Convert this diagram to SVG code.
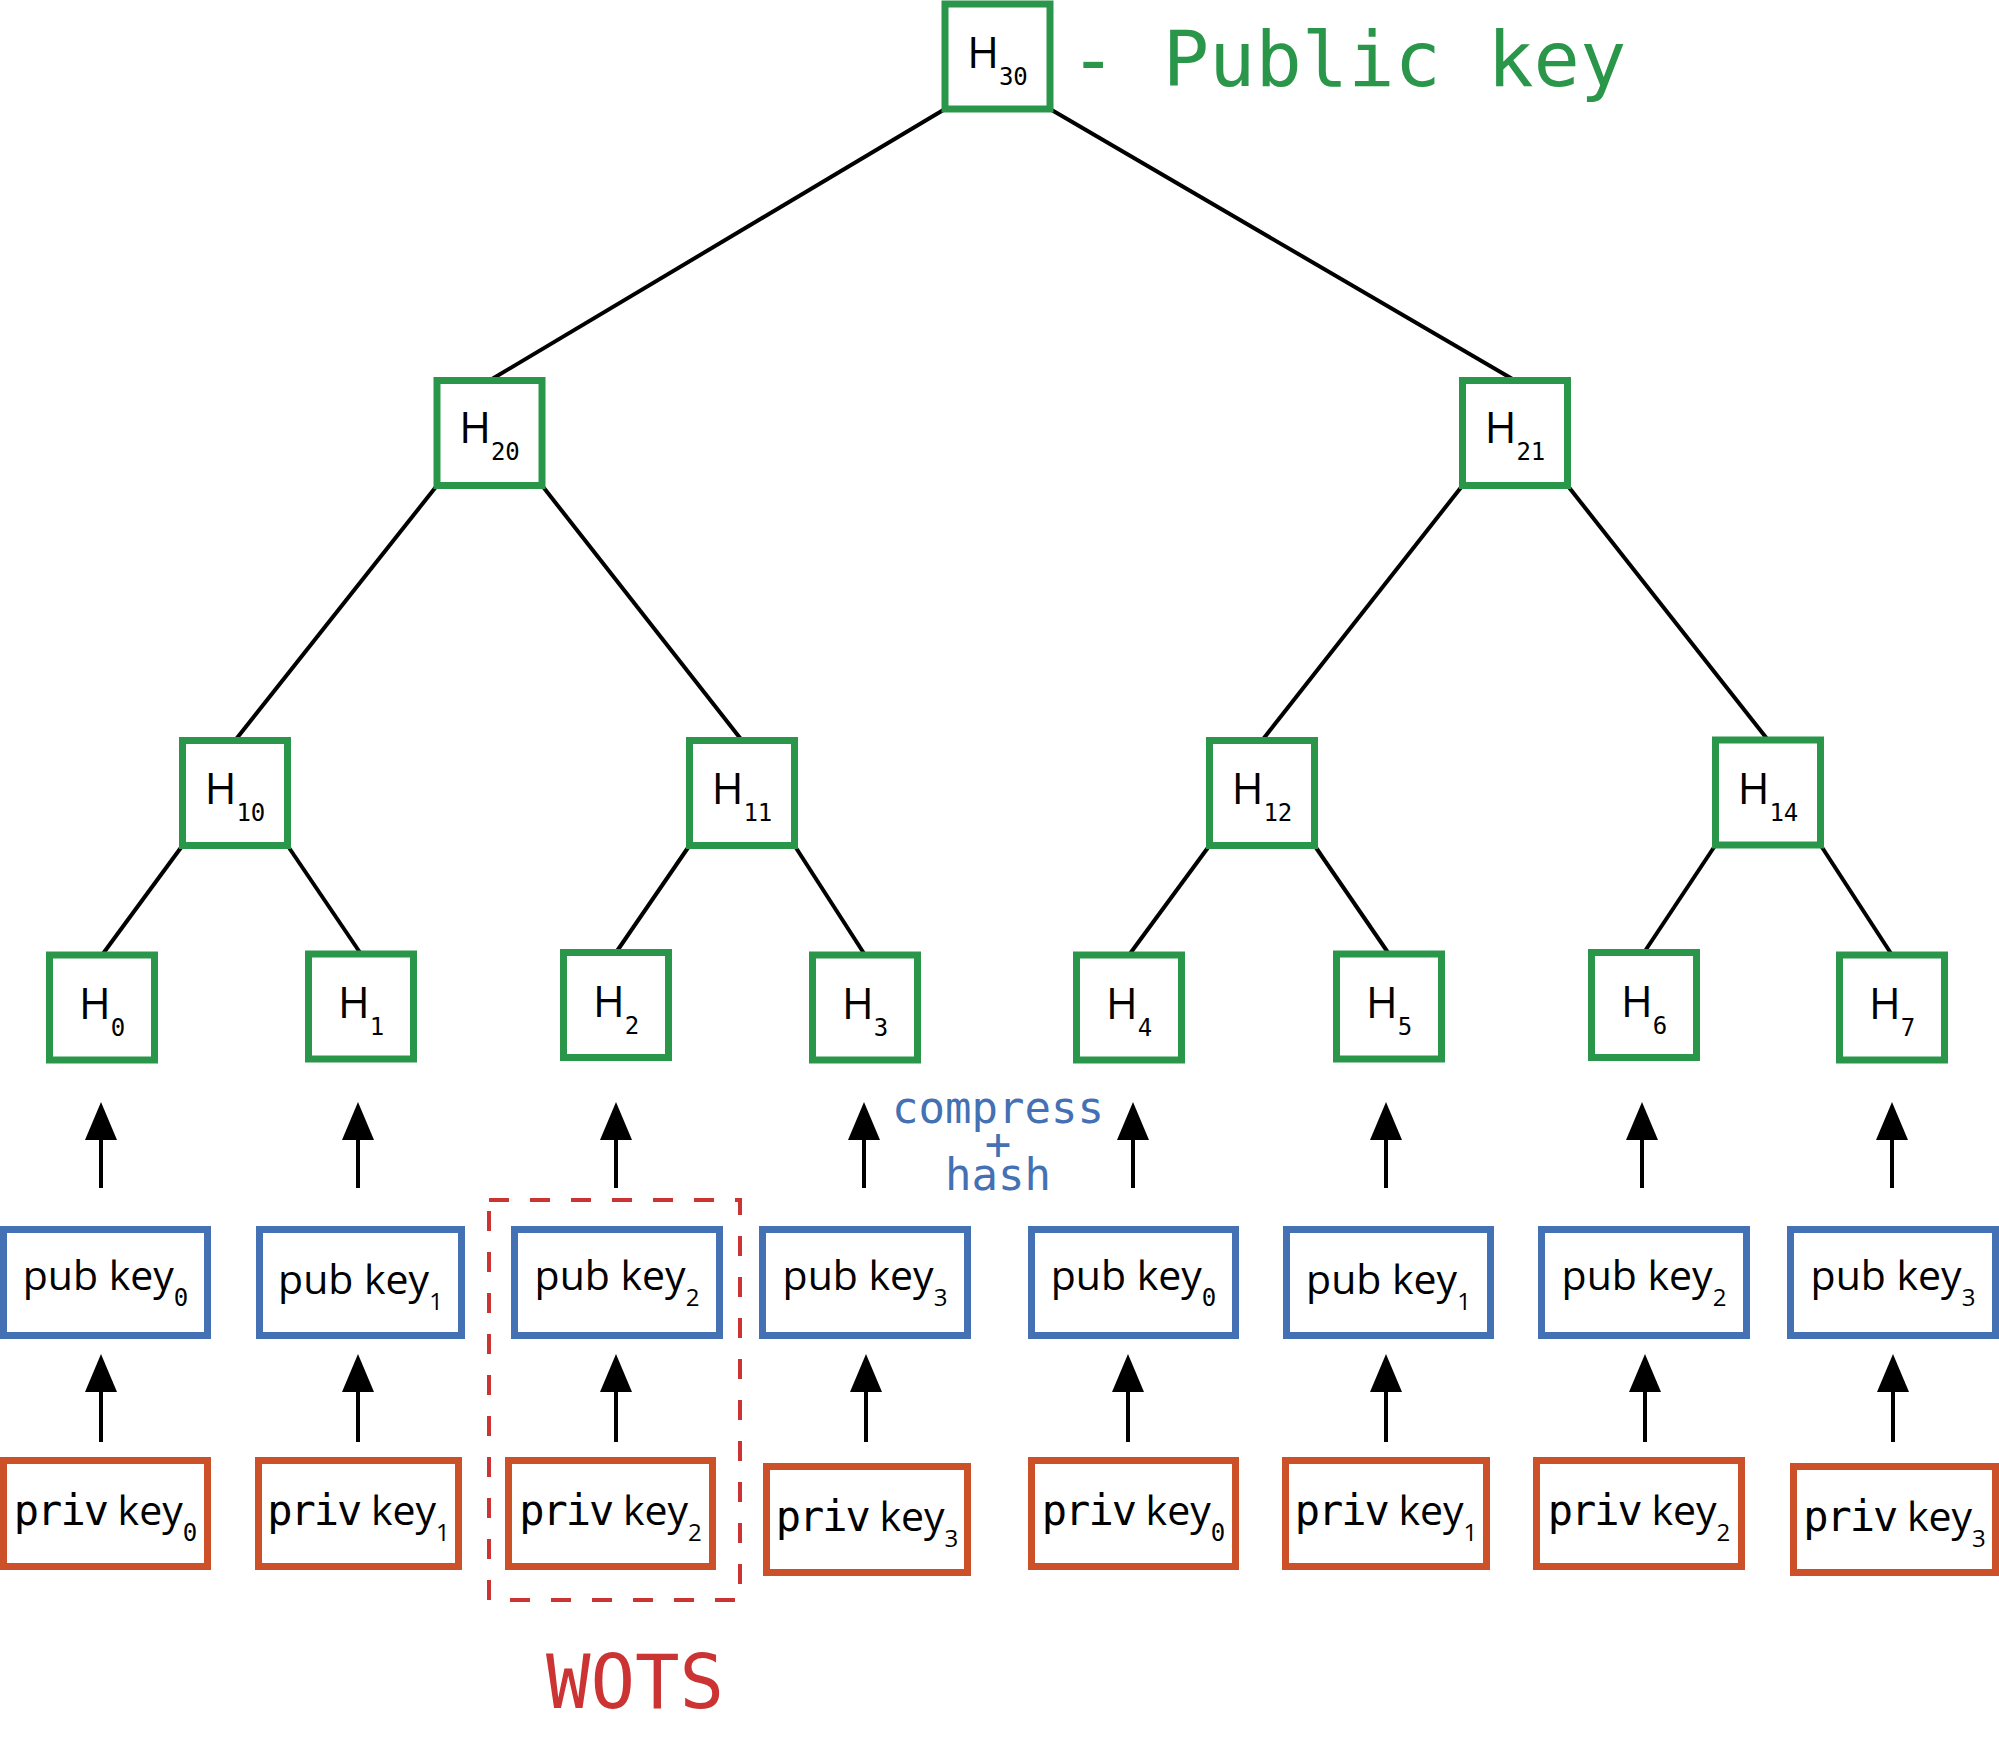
<svg xmlns="http://www.w3.org/2000/svg" width="1999" height="1739" viewBox="0 0 1999 1739">
<style>
.h{fill:#fff;stroke:#2a964a;stroke-width:7}
.pub{fill:#fff;stroke:#4470b4;stroke-width:7}
.priv{fill:#fff;stroke:#cc5028;stroke-width:7}
.edge{stroke:#000;stroke-width:4;fill:none}
.arr{stroke:#000;stroke-width:4;fill:none;marker-end:url(#ah)}
.ht{font-family:"Open Sans","Noto Sans",sans-serif;font-size:43px;fill:#000;text-anchor:middle}
.kt{font-family:"Open Sans","Noto Sans",sans-serif;font-size:41px;fill:#000;text-anchor:middle}
.sub{font-family:"DejaVu Sans Mono",monospace;font-size:24px}
.ssub{font-family:"Open Sans","Noto Sans",sans-serif;font-size:24px}
.mono{font-family:"DejaVu Sans Mono",monospace;font-size:42px;letter-spacing:-2px}
</style>
<defs>
<marker id="ah" markerUnits="userSpaceOnUse" viewBox="0 0 38 32" markerWidth="38" markerHeight="32" refX="0" refY="16" orient="auto">
<path d="M0,0 L38,16 L0,32 z" fill="#000"/>
</marker>
</defs>
<rect width="1999" height="1739" fill="#fff"/>
<g id="connectors">
<line class="edge" x1="945" y1="109" x2="489.5" y2="380.5"/>
<line class="edge" x1="1050" y1="109" x2="1515" y2="380.5"/>
<line class="edge" x1="437" y1="485.5" x2="235" y2="740.5"/>
<line class="edge" x1="542" y1="485.5" x2="742" y2="740.5"/>
<line class="edge" x1="1462.5" y1="485.5" x2="1262" y2="740.5"/>
<line class="edge" x1="1567.5" y1="485.5" x2="1768" y2="740"/>
<line class="edge" x1="182.5" y1="845.5" x2="102" y2="955"/>
<line class="edge" x1="287.5" y1="845.5" x2="361" y2="954"/>
<line class="edge" x1="689.5" y1="845.5" x2="616" y2="952.5"/>
<line class="edge" x1="794.5" y1="845.5" x2="865" y2="955"/>
<line class="edge" x1="1209.5" y1="845.5" x2="1129" y2="955"/>
<line class="edge" x1="1314.5" y1="845.5" x2="1389" y2="954"/>
<line class="edge" x1="1715.5" y1="845" x2="1644" y2="952.5"/>
<line class="edge" x1="1820.5" y1="845" x2="1892" y2="955"/>
<path class="arr" d="M101,1188 V1140"/>
<path class="arr" d="M358,1188 V1140"/>
<path class="arr" d="M616,1188 V1140"/>
<path class="arr" d="M864,1188 V1140"/>
<path class="arr" d="M1133,1188 V1140"/>
<path class="arr" d="M1386,1188 V1140"/>
<path class="arr" d="M1642,1188 V1140"/>
<path class="arr" d="M1892,1188 V1140"/>
<path class="arr" d="M101,1442 V1392"/>
<path class="arr" d="M358,1442 V1392"/>
<path class="arr" d="M616,1442 V1392"/>
<path class="arr" d="M866,1442 V1392"/>
<path class="arr" d="M1128,1442 V1392"/>
<path class="arr" d="M1386,1442 V1392"/>
<path class="arr" d="M1645,1442 V1392"/>
<path class="arr" d="M1893,1442 V1392"/>
</g>
<g id="H30"><rect class="h" x="945" y="4" width="105" height="105"/><text class="ht" x="997.5" y="68">H<tspan class="sub" dy="17">30</tspan></text></g>
<text x="1070" y="86" font-family="DejaVu Sans Mono,monospace" font-size="77" fill="#2a964a">- Public key</text>
<g id="H20"><rect class="h" x="437" y="380.5" width="105" height="105"/><text class="ht" x="489.5" y="443">H<tspan class="sub" dy="17">20</tspan></text></g>
<g id="H21"><rect class="h" x="1462.5" y="380.5" width="105" height="105"/><text class="ht" x="1515" y="443">H<tspan class="sub" dy="17">21</tspan></text></g>
<g id="H10"><rect class="h" x="182.5" y="740.5" width="105" height="105"/><text class="ht" x="235" y="804">H<tspan class="sub" dy="17">10</tspan></text></g>
<g id="H11"><rect class="h" x="689.5" y="740.5" width="105" height="105"/><text class="ht" x="742" y="804">H<tspan class="sub" dy="17">11</tspan></text></g>
<g id="H12"><rect class="h" x="1209.5" y="740.5" width="105" height="105"/><text class="ht" x="1262" y="804">H<tspan class="sub" dy="17">12</tspan></text></g>
<g id="H14"><rect class="h" x="1715.5" y="740" width="105" height="105"/><text class="ht" x="1768" y="803.5">H<tspan class="sub" dy="17">14</tspan></text></g>
<g id="H0"><rect class="h" x="49.5" y="955" width="105" height="105"/><text class="ht" x="102" y="1019">H<tspan class="sub" dy="17">0</tspan></text></g>
<g id="H1"><rect class="h" x="308.5" y="954" width="105" height="105"/><text class="ht" x="361" y="1018">H<tspan class="sub" dy="17">1</tspan></text></g>
<g id="H2"><rect class="h" x="563.5" y="952.5" width="105" height="105"/><text class="ht" x="616" y="1016.5">H<tspan class="sub" dy="17">2</tspan></text></g>
<g id="H3"><rect class="h" x="812.5" y="955" width="105" height="105"/><text class="ht" x="865" y="1019">H<tspan class="sub" dy="17">3</tspan></text></g>
<g id="H4"><rect class="h" x="1076.5" y="955" width="105" height="105"/><text class="ht" x="1129" y="1019">H<tspan class="sub" dy="17">4</tspan></text></g>
<g id="H5"><rect class="h" x="1336.5" y="954" width="105" height="105"/><text class="ht" x="1389" y="1018">H<tspan class="sub" dy="17">5</tspan></text></g>
<g id="H6"><rect class="h" x="1591.5" y="952.5" width="105" height="105"/><text class="ht" x="1644" y="1016.5">H<tspan class="sub" dy="17">6</tspan></text></g>
<g id="H7"><rect class="h" x="1839.5" y="955" width="105" height="105"/><text class="ht" x="1892" y="1019">H<tspan class="sub" dy="17">7</tspan></text></g>
<g id="compress" font-family="DejaVu Sans Mono,monospace" font-size="44" fill="#4470b4" text-anchor="middle">
<text x="998" y="1123">compress</text>
<text x="998" y="1159">+</text>
<text x="998" y="1190">hash</text>
</g>
<g id="pub0"><rect class="pub" x="3.5" y="1229.5" width="204" height="106"/><text class="kt" x="105.5" y="1290">pub key<tspan class="sub" dy="16">0</tspan></text></g>
<g id="pub1"><rect class="pub" x="259.5" y="1229.5" width="202" height="106"/><text class="kt" x="360.5" y="1294">pub key<tspan class="ssub" dy="16">1</tspan></text></g>
<g id="pub2"><rect class="pub" x="514.5" y="1229.5" width="205" height="106"/><text class="kt" x="617" y="1290">pub key<tspan class="ssub" dy="16">2</tspan></text></g>
<g id="pub3"><rect class="pub" x="762.5" y="1229.5" width="205" height="106"/><text class="kt" x="865" y="1290">pub key<tspan class="ssub" dy="16">3</tspan></text></g>
<g id="pub0b"><rect class="pub" x="1031.5" y="1229.5" width="204" height="106"/><text class="kt" x="1133.5" y="1290">pub key<tspan class="sub" dy="16">0</tspan></text></g>
<g id="pub1b"><rect class="pub" x="1286.5" y="1229.5" width="204" height="106"/><text class="kt" x="1388.5" y="1294">pub key<tspan class="ssub" dy="16">1</tspan></text></g>
<g id="pub2b"><rect class="pub" x="1541.5" y="1229.5" width="205" height="106"/><text class="kt" x="1644" y="1290">pub key<tspan class="ssub" dy="16">2</tspan></text></g>
<g id="pub3b"><rect class="pub" x="1790.5" y="1229.5" width="205" height="106"/><text class="kt" x="1893" y="1290">pub key<tspan class="ssub" dy="16">3</tspan></text></g>
<g id="priv0"><rect class="priv" x="3.5" y="1460.5" width="204" height="106"/><text class="kt" x="105.5" y="1525"><tspan class="mono">priv</tspan> key<tspan class="sub" dy="16">0</tspan></text></g>
<g id="priv1"><rect class="priv" x="258.5" y="1460.5" width="200" height="106"/><text class="kt" x="358.5" y="1525"><tspan class="mono">priv</tspan> key<tspan class="ssub" dy="16">1</tspan></text></g>
<g id="priv2"><rect class="priv" x="508.5" y="1460.5" width="204" height="106"/><text class="kt" x="610.5" y="1525"><tspan class="mono">priv</tspan> key<tspan class="ssub" dy="16">2</tspan></text></g>
<g id="priv3"><rect class="priv" x="766.5" y="1466.5" width="201" height="106"/><text class="kt" x="867" y="1531"><tspan class="mono">priv</tspan> key<tspan class="ssub" dy="16">3</tspan></text></g>
<g id="priv0b"><rect class="priv" x="1031.5" y="1460.5" width="204" height="106"/><text class="kt" x="1133.5" y="1525"><tspan class="mono">priv</tspan> key<tspan class="sub" dy="16">0</tspan></text></g>
<g id="priv1b"><rect class="priv" x="1285.5" y="1460.5" width="201" height="106"/><text class="kt" x="1386" y="1525"><tspan class="mono">priv</tspan> key<tspan class="ssub" dy="16">1</tspan></text></g>
<g id="priv2b"><rect class="priv" x="1536.5" y="1460.5" width="205" height="106"/><text class="kt" x="1639" y="1525"><tspan class="mono">priv</tspan> key<tspan class="ssub" dy="16">2</tspan></text></g>
<g id="priv3b"><rect class="priv" x="1793.5" y="1466.5" width="202" height="106"/><text class="kt" x="1894.5" y="1531"><tspan class="mono">priv</tspan> key<tspan class="ssub" dy="16">3</tspan></text></g>
<g id="wots">
<rect x="489" y="1200" width="251" height="400" fill="none" stroke="#cc3333" stroke-width="4" stroke-dasharray="20 21"/>
<text x="635" y="1708" font-family="DejaVu Sans Mono,monospace" font-size="74" fill="#cc3333" text-anchor="middle">WOTS</text>
</g>
</svg>
